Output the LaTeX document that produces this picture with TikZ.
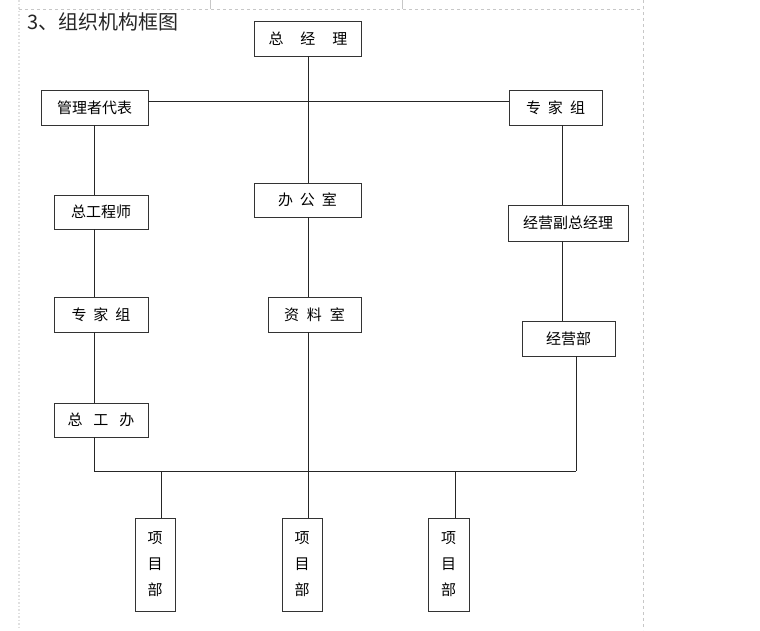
\documentclass[tikz,border=0pt]{standalone}
\usepackage{fontspec}
\setmainfont{Noto Sans CJK SC}
\usepackage{tikz}
\usetikzlibrary{calc}

\begin{document}
\begin{tikzpicture}[x=1pt,y=-1pt,
  box/.style={draw=black!80,line width=0.7pt,inner sep=0pt,minimum height=35pt,font=\fontsize{15}{18}\selectfont},
  projbox/.style={box,minimum width=40pt,minimum height=93pt,align=center,font=\fontsize{15}{26}\selectfont},
  link/.style={line width=0.7pt,black!85},
  guide/.style={black!22,dashed,line width=0.5pt}]
\useasboundingbox[fill=white] (0,0) rectangle (760,630);

\draw[guide] (19,9) -- (643,9);
\draw[guide] (643,0) -- (643,630);
\draw[black!12,line width=1.5pt,dotted] (19,0) -- (19,630);
\draw[black!22,line width=0.5pt] (210,0) -- (210,9);
\draw[black!22,line width=0.5pt] (402,0) -- (402,9);

\node[anchor=west,inner sep=0pt,font=\fontsize{20}{24}\selectfont,text=black!85] (title) at (27,22) {3、组织机构框图};

\node[box,minimum width=107pt] (gm) at (308,38.5) {总\hspace{17pt}经\hspace{17pt}理};
\node[box,minimum width=107pt] (rep) at (94.5,107.5) {管理者代表};
\node[box,minimum width=93pt] (expR) at (555.5,107.5) {专\hspace{7pt}家\hspace{7pt}组};
\node[box,minimum width=94pt,minimum height=34pt] (chiefEng) at (101,212) {总工程师};
\node[box,minimum width=107pt,minimum height=34pt] (office) at (307.5,200) {办\hspace{7pt}公\hspace{7pt}室};
\node[box,minimum width=120pt,minimum height=36pt] (vicegm) at (568,223) {经营副总经理};
\node[box,minimum width=94pt] (expL) at (101,314.5) {专\hspace{7pt}家\hspace{7pt}组};
\node[box,minimum width=93pt] (archive) at (314.5,314.5) {资\hspace{8pt}料\hspace{8pt}室};
\node[box,minimum width=93pt] (bizdept) at (568.5,338.5) {经营部};
\node[box,minimum width=94pt,minimum height=34pt] (engoffice) at (101,420) {总\hspace{11pt}工\hspace{11pt}办};
\node[projbox] (projA) at (155,564.5) {项\\目\\部};
\node[projbox] (projB) at (302,564.5) {项\\目\\部};
\node[projbox,minimum width=41pt] (projC) at (448.5,564.5) {项\\目\\部};

\coordinate (busL) at (94.5,471);
\coordinate (busR) at (576,471);

\draw[link] ([yshift=6.5pt]rep.east) -- ([yshift=6.5pt]expR.west);
\draw[link] (gm.south) -- (gm.south |- office.north);
\draw[link] ([xshift=0.5pt]office.south) -- ([xshift=0.5pt]office.south |- archive.north);
\draw[link] ([xshift=-6.5pt]archive.south) -- ([xshift=-6.5pt]archive.south |- projB.north);
\draw[link] (rep.south) -- (rep.south |- chiefEng.north);
\draw[link] (rep.south |- chiefEng.south) -- (rep.south |- expL.north);
\draw[link] (rep.south |- expL.south) -- (rep.south |- engoffice.north);
\draw[link] (rep.south |- engoffice.south) -- (busL) -- (busR);
\draw[link] ([xshift=6.5pt]expR.south) -- ([xshift=6.5pt]expR.south |- vicegm.north);
\draw[link] ([xshift=6.5pt]expR.south |- vicegm.south) -- ([xshift=6.5pt]expR.south |- bizdept.north);
\draw[link] (busR |- bizdept.south) -- (busR);
\draw[link] ([xshift=6pt]projA.north |- busL) -- ([xshift=6pt]projA.north);
\draw[link] ([xshift=6.5pt]projC.north |- busL) -- ([xshift=6.5pt]projC.north);
\end{tikzpicture}
\end{document}
